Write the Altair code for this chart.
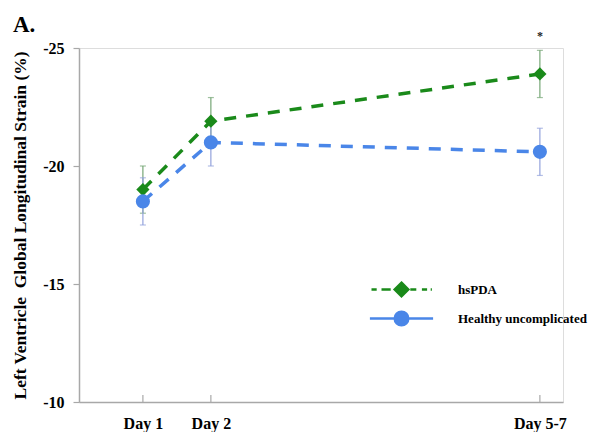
import altair as alt
import pandas as pd

# ---- data ----
days = ["Day 1", "Day 2", "Day 5-7"]
day_pos = [1, 2, 6.84]
series = ["hsPDA", "Healthy uncomplicated"]
hspda_mean = [-19.0, -21.9, -23.9]
hspda_err = [1.0, 1.0, 1.0]
healthy_mean = [-18.5, -21.0, -20.6]
healthy_err = [1.0, 1.0, 1.0]
y_ticks = [-25, -20, -15, -10]
star_series = "hsPDA"
star_day = "Day 5-7"

# ---- styles ----
colors = ["#1a8a1a", "#4a86e8"]
bar_colors = ["#76a676", "#93a2dc"]
marker_shapes = ["diamond", "circle"]
marker_sizes = [175, 200]
legend_paths = [
    "M-3.75,0H-3.1M-2.5,0H-1.35M1.1,0H1.85M2.55,0H3.2M3.65,0H3.8M0,-0.85L0.85,0L0,0.85L-0.85,0Z",
    "M-3.95,0H3.95M-0.85,0A0.85,0.85,0,1,1,0.85,0A0.85,0.85,0,1,1,-0.85,0Z",
]
FONT = "Liberation Serif"
AXIS_GRAY = "#a8a8a8"
W, H = 484, 354

rows = []
for name, means, errs in [(series[0], hspda_mean, hspda_err), (series[1], healthy_mean, healthy_err)]:
    for d, p, m, e in zip(days, day_pos, means, errs):
        rows.append(dict(series=name, day=d, pos=p, mean=m, lo=m - e, hi=m + e))
df = pd.DataFrame(rows)

label_expr = " : ".join(
    [f"datum.value == {p} ? '{d}'" for p, d in zip(day_pos[:-1], days[:-1])] + [f"'{days[-1]}'"]
)

x_scale = alt.Scale(domain=[0.06, 7.18], nice=False, zero=False)
y_scale = alt.Scale(domain=[-25, -10], reverse=True, nice=False, zero=False)

x_enc = alt.X(
    "pos:Q",
    scale=x_scale,
    axis=alt.Axis(
        values=day_pos, labelExpr=label_expr, title=None, ticks=False, grid=False,
        domainColor=AXIS_GRAY, domainWidth=1.5, labelFont=FONT, labelFontSize=16,
        labelFontWeight="bold", labelColor="black", labelPadding=13,
    ),
)
y_enc = alt.Y(
    "mean:Q",
    scale=y_scale,
    axis=alt.Axis(
        values=y_ticks, labelExpr="'' + datum.value", grid=False,
        title="Left Ventricle\u00a0 Global Longitudinal Strain (%)",
        titleFont=FONT, titleFontSize=17.5, titleFontWeight="bold", titleColor="black",
        titleBaseline="alphabetic", titleX=-54,
        domainColor=AXIS_GRAY, domainWidth=1.5, tickColor=AXIS_GRAY, tickSize=6, tickWidth=1.2,
        labelFont=FONT, labelFontSize=16, labelFontWeight="bold", labelColor="black", labelPadding=9,
    ),
)

base = alt.Chart(df)
layers = []

# inward x ticks
layers.append(
    base.transform_filter(f"datum.series == '{series[0]}'").mark_rule(color=AXIS_GRAY, strokeWidth=1.2).encode(
        x=x_enc, y=alt.value(H), y2=alt.value(H - 7)
    )
)

# dashed lines
for s, c in zip(series, colors):
    layers.append(
        base.transform_filter(f"datum.series == '{s}'").mark_line(
            color=c, strokeWidth=3.5, strokeDash=[12, 10]
        ).encode(x=x_enc, y=y_enc)
    )

# error bars
for s, c in zip(series, bar_colors):
    sub = base.transform_filter(f"datum.series == '{s}'")
    layers.append(sub.mark_rule(color=c, strokeWidth=1.2).encode(x=x_enc, y=alt.Y("lo:Q", scale=y_scale), y2="hi:Q"))
    layers.append(sub.mark_tick(color=c, orient="horizontal", size=6, thickness=1.2).encode(x=x_enc, y=alt.Y("lo:Q", scale=y_scale)))
    layers.append(sub.mark_tick(color=c, orient="horizontal", size=6, thickness=1.2).encode(x=x_enc, y=alt.Y("hi:Q", scale=y_scale)))

# markers
for s, c, sh, sz in zip(series, colors, marker_shapes, marker_sizes):
    layers.append(
        base.transform_filter(f"datum.series == '{s}'").mark_point(
            shape=sh, size=sz, filled=True, color=c, opacity=1, strokeWidth=0
        ).encode(x=x_enc, y=y_enc)
    )

# significance asterisk
layers.append(
    base.transform_filter(f"datum.series == '{star_series}' && datum.day == '{star_day}'").mark_text(
        text="*", font=FONT, fontSize=12, fontWeight="bold", color="#222222", baseline="middle", dy=-14
    ).encode(x=x_enc, y=alt.Y("lo:Q", scale=y_scale))
)

# legend-only layer
leg = alt.Legend(
    title=None, orient="none", legendX=313, legendY=232, symbolSize=256, symbolStrokeWidth=2.5,
    labelFont=FONT, labelFontSize=13, labelFontWeight="bold", labelColor="black",
    labelOffset=47, rowPadding=4, padding=0,
)
layers.append(
    base.transform_filter("false").mark_point(filled=True, opacity=1, strokeWidth=2.5).encode(
        fill=alt.Fill("series:N", scale=alt.Scale(domain=series, range=colors), legend=leg),
        stroke=alt.Stroke("series:N", scale=alt.Scale(domain=series, range=colors), legend=leg),
        shape=alt.Shape("series:N", scale=alt.Scale(domain=series, range=legend_paths), legend=leg),
    )
)

chart = alt.layer(*layers).properties(
    width=W,
    height=H,
    title=alt.TitleParams(
        "A.", anchor="start", frame="group", font=FONT, fontSize=23, fontWeight="bold",
        color="black", dx=-66, dy=25, offset=0, baseline="alphabetic",
    ),
    padding={"left": 71, "top": 40, "right": 28, "bottom": 30},
    autosize=alt.AutoSizeParams(type="none"),
).configure_view(stroke=None).configure(background="white")

chart.save("out.html", embed_options={"renderer": "svg", "actions": False})
